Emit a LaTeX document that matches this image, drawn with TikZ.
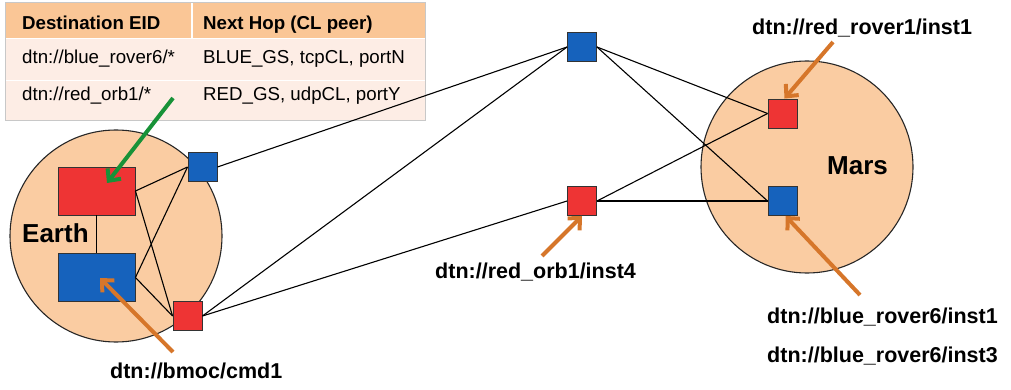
\documentclass[tikz,border=0pt]{standalone}
\usepackage{fontspec}
\setmainfont{Liberation Sans}
\usetikzlibrary{arrows.meta,calc}

\definecolor{planet}{RGB}{250,204,162}
\definecolor{nodered}{RGB}{238,52,52}
\definecolor{nodeblue}{RGB}{22,98,188}
\definecolor{hdrfill}{RGB}{250,198,150}
\definecolor{rowfill}{RGB}{253,237,229}
\definecolor{tblline}{RGB}{200,200,200}
\definecolor{ptr}{RGB}{214,118,42}
\definecolor{ptrgreen}{RGB}{24,146,56}

\tikzset{
  planetdisc/.style={circle, draw=black!85, line width=1.1pt, fill=planet, minimum size=212pt, inner sep=0pt},
  hostbox/.style={draw=black!80, line width=0.9pt, minimum width=77pt, minimum height=48pt, inner sep=0pt},
  router/.style={draw=black!80, line width=0.9pt, minimum size=29pt, inner sep=0pt},
  link/.style={black, line width=1.1pt},
  pointer/.style={ptr, line width=4pt, -{Straight Barb[length=9pt, width=17pt]}},
  tbltext/.style={font=\fontsize{18.7}{20}\selectfont, anchor=base west, inner sep=0pt},
  tblhead/.style={tbltext, font=\fontsize{18.7}{20}\selectfont\bfseries},
  eid/.style={font=\fontsize{21.5}{24}\selectfont\bfseries, anchor=base west, inner sep=0pt},
  planetname/.style={font=\fontsize{26}{28}\selectfont\bfseries, anchor=base west, inner sep=0pt}
}

\begin{document}
\begin{tikzpicture}[x=1pt, y=-1pt]
\useasboundingbox (0,0) rectangle (1011,390);

% routing table
\fill[rowfill] (5,3) rectangle (425,121);
\fill[hdrfill] (5,3) rectangle (425,38);
\draw[white, line width=1.2pt] (5,38.5) -- (425,38.5);
\draw[white, line width=0.8pt] (5,80) -- (425,80);
\draw[white, line width=1.2pt] (192,3) -- (192,38);
\draw[tblline, line width=1pt] (5,3) rectangle (425,121);
\node[tblhead] (h1) at (22,30) {Destination EID};
\node[tblhead] (h2) at (203,30) {Next Hop (CL peer)};
\node[tbltext] (r1a) at (22,64) {dtn://blue\_rover6/*};
\node[tbltext] (r1b) at (203,64) {BLUE\_GS, tcpCL, portN};
\node[tbltext] (r2a) at (22,101) {dtn://red\_orb1/*};
\node[tbltext] (r2b) at (203,101) {RED\_GS, udpCL, portY};

% planets
\node[planetdisc] (earth) at (116,236) {};
\node[planetdisc] (mars) at (807,167) {};
\node[planetname] (earthlbl) at (22,242) {Earth};
\node[planetname] (marslbl) at (827,175) {Mars};

% Earth hosts and ground stations
\node[hostbox, fill=nodered] (erect) at (96.5,191) {};
\node[hostbox, fill=nodeblue] (brect) at (96.5,277.5) {};
\node[router, fill=nodeblue] (egs) at (202.5,167) {};
\node[router, fill=nodered] (rgs) at (187.5,316) {};

% relays
\node[router, fill=nodeblue] (tb) at (582,47) {};
\node[router, fill=nodered] (orb) at (582,201) {};

% Mars rovers
\node[router, fill=nodered] (mr) at (782.5,113.5) {};
\node[router, fill=nodeblue] (mb) at (782.5,201) {};

% links
\draw[link] (erect.south) -- (brect.north);
\draw[link] (erect.east) -- (egs.west);
\draw[link] (erect.east) -- (rgs.west);
\draw[link] (brect.east) -- (egs.west);
\draw[link] (brect.east) -- (rgs.west);
\draw[link] (egs.east) -- (tb.west);
\draw[link] (rgs.east) -- (tb.west);
\draw[link] (rgs.east) -- (orb.west);
\draw[link] (tb.east) -- (mr.west);
\draw[link] (tb.east) -- (mb.west);
\draw[link] (orb.east) -- (mr.west);
\draw[link] (orb.east) -- (mb.west);

% endpoint labels
\node[eid] (lbmoc) at (110,378) {dtn://bmoc/cmd1};
\node[eid] (lorb) at (435,278) {dtn://red\_orb1/inst4};
\node[eid] (lrover1) at (752,35) {dtn://red\_rover1/inst1};
\node[eid] (lrover6a) at (767,323) {dtn://blue\_rover6/inst1};
\node[eid] (lrover6b) at (767,362) {dtn://blue\_rover6/inst3};

% pointers
\coordinate (gtail) at (173,98);
\coordinate (gtip) at (107,183);
\coordinate (btail) at (173,352);
\coordinate (btip) at (100,278);
\coordinate (otail) at (542,256);
\coordinate (rtail) at (833,42);
\coordinate (mtail) at (860,295);

\draw[pointer, ptrgreen] (gtail) -- (gtip);
\draw[pointer] (btail) -- (btip);
\draw[pointer] (otail) -- (orb.south);
\draw[pointer] (rtail) -- ($(mr.north)+(2,0)$);
\draw[pointer] (mtail) -- ($(mb.south)+(3,0)$);
\end{tikzpicture}
\end{document}
